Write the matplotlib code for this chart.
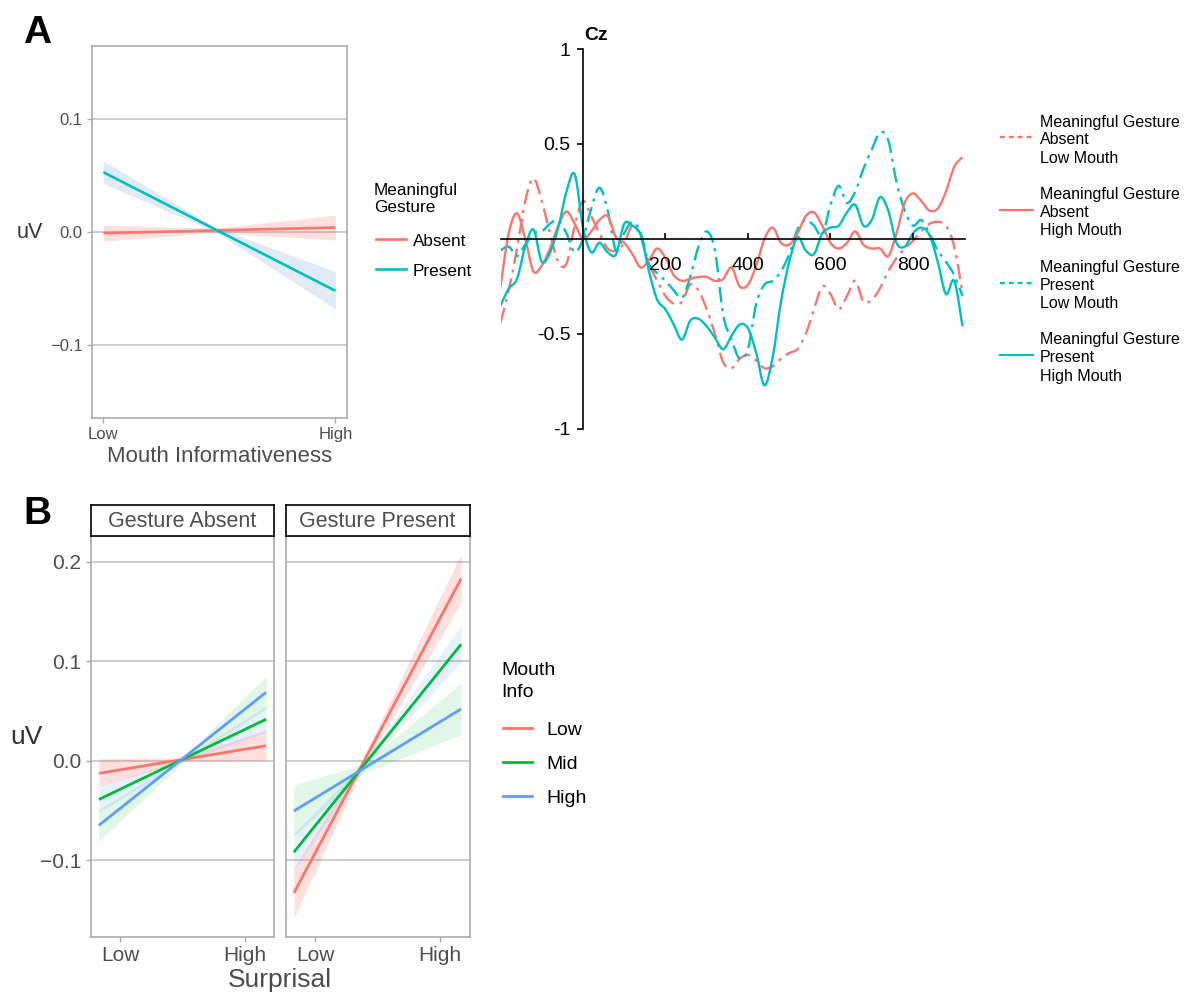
import numpy as np
import matplotlib
matplotlib.use('Agg')
import matplotlib.pyplot as plt
from matplotlib.lines import Line2D
from matplotlib.path import Path
from matplotlib.patches import PathPatch

plt.rcParams['font.family'] = ['Liberation Sans', 'DejaVu Sans']

W, H = 1185, 994

# ---------------- data ----------------
# Panel A (left): model fits over mouth informativeness
mouth_x = [0, 1]
mouth_ticklabels = ['Low', 'High']
absent_fit = [-0.001, 0.004]
present_fit = [0.053, -0.052]
band_x_a = [0, 0.48, 1]
absent_lo = [-0.008, -0.0005, -0.007]
absent_hi = [0.006, 0.0033, 0.015]
present_lo = [0.043, 0.0005, -0.068]
present_hi = [0.063, 0.0045, -0.035]
yticks_a = [-0.1, 0.0, 0.1]

# Panel A (right): ERP at Cz, every 20 ms from -200 to 920 ms
erp_time = list(range(-200, 921, 20))
absent_low_mouth = [-0.44, -0.27, -0.05, 0.2, 0.32, 0.2, 0.03, -0.12, -0.13, 0.07,
                    0.2, 0.12, 0.03, -0.05, -0.06, -0.02, 0.07, 0.01, -0.13, -0.22,
                    -0.3, -0.34, -0.33, -0.24, -0.27, -0.37, -0.5, -0.65, -0.68, -0.63,
                    -0.61, -0.64, -0.68, -0.67, -0.63, -0.6, -0.58, -0.5, -0.37, -0.25,
                    -0.29, -0.37, -0.3, -0.22, -0.33, -0.32, -0.26, -0.17, -0.1, -0.05,
                    -0.01, 0.04, 0.08, 0.09, 0.07, -0.04, -0.28]
absent_high_mouth = [-0.25, 0.03, 0.135, 0.0, -0.17, -0.14, -0.05, 0.07, 0.145, 0.08,
                     0.0, 0.04, 0.1, 0.12, 0.01, -0.02, -0.08, -0.15, -0.11, -0.05,
                     -0.1, -0.19, -0.22, -0.21, -0.2, -0.2, -0.22, -0.21, -0.15, -0.25,
                     -0.24, -0.14, 0.0, 0.06, -0.02, -0.03, 0.03, 0.12, 0.14, 0.07,
                     -0.02, -0.05, -0.02, 0.04, -0.03, -0.05, -0.05, -0.09, 0.03, 0.19,
                     0.24, 0.2, 0.15, 0.16, 0.25, 0.38, 0.43]
present_low_mouth = [-0.06, -0.04, -0.09, -0.03, 0.03, 0.04, 0.08, 0.1, 0.03, -0.07,
                     0.0, 0.16, 0.27, 0.15, -0.06, 0.03, 0.09, 0.03, -0.13, -0.18,
                     -0.22, -0.27, -0.31, -0.2, -0.04, 0.04, -0.06, -0.4, -0.53, -0.63,
                     -0.58, -0.34, -0.24, -0.22, -0.17, -0.08, 0.05, 0.1, 0.07, 0.02,
                     0.18, 0.28, 0.19, 0.25, 0.37, 0.47, 0.56, 0.52, 0.3, 0.15,
                     0.07, 0.1, 0.03, -0.06, -0.12, -0.19, -0.3]
present_high_mouth = [-0.35, -0.26, -0.21, -0.04, 0.05, -0.12, -0.07, 0.06, 0.25, 0.34,
                      0.06, -0.07, -0.02, -0.07, -0.08, 0.08, 0.07, 0.02, -0.17, -0.32,
                      -0.37, -0.45, -0.53, -0.43, -0.42, -0.46, -0.52, -0.58, -0.51, -0.45,
                      -0.47, -0.6, -0.77, -0.62, -0.33, -0.12, 0.01, -0.06, -0.08, 0.03,
                      0.06, 0.07, 0.14, 0.18, 0.07, 0.1, 0.22, 0.15, -0.02, -0.04,
                      0.03, 0.06, 0.02, -0.12, -0.29, -0.22, -0.46]
erp_yticks = [-1, -0.5, 0.5, 1]
erp_yticklabels = ['-1', '-0.5', '0.5', '1']
erp_xticks = [200, 400, 600, 800]

# Panel B: surprisal x mouth info, per gesture facet
surp_x = [-0.17, 1.17]
surp_ticks = [0, 1]
surp_ticklabels = ['Low', 'High']
facets = ['Gesture Absent', 'Gesture Present']
mouth_levels = ['Low', 'Mid', 'High']
fits_b = {
    'Gesture Absent': {'Low': [-0.0127, 0.015], 'Mid': [-0.039, 0.0416], 'High': [-0.065, 0.0687]},
    'Gesture Present': {'Low': [-0.133, 0.183], 'Mid': [-0.092, 0.117], 'High': [-0.0506, 0.052]},
}
band_x_b = {'Gesture Absent': [-0.17, 0.5, 1.17], 'Gesture Present': [-0.17, 0.38, 1.17]}
bands_b = {
    'Gesture Absent': {
        'Low': ([-0.026, -0.0005, 0.0], [0.002, 0.003, 0.031]),
        'Mid': ([-0.052, -0.001, 0.028], [-0.026, 0.002, 0.055]),
        'High': ([-0.081, -0.002, 0.052], [-0.049, 0.002, 0.085]),
    },
    'Gesture Present': {
        'Low': ([-0.158, -0.008, 0.159], [-0.108, 0.002, 0.208]),
        'Mid': ([-0.11, -0.009, 0.0995], [-0.073, -0.003, 0.136]),
        'High': ([-0.076, -0.013, 0.026], [-0.0245, -0.004, 0.078]),
    },
}
yticks_b = [-0.1, 0.0, 0.1, 0.2]

# ---------------- styles ----------------
RED = '#F8766D'
CYAN = '#00BFC4'
GREEN = '#00BA38'
BLUE = '#619CFF'
line_col_b = {'Low': RED, 'Mid': GREEN, 'High': BLUE}
fill_col_b = {'Low': (RED, 0.22), 'Mid': (BLUE, 0.15), 'High': (GREEN, 0.12)}
GRID = '#C4C4C4'
BORDER = '#ABABAB'
TXT = '#4D4D4D'

fig = plt.figure(figsize=(W / 100, H / 100), dpi=100)


def add_ax(l, t, r, b):
    return fig.add_axes([l / W, 1 - b / H, (r - l) / W, (b - t) / H])


def ft(x, y, s, **kw):
    return fig.text(x / W, 1 - y / H, s, **kw)


def fline(x0, x1, y, **kw):
    fig.add_artist(Line2D([x0 / W, x1 / W], [1 - y / H, 1 - y / H], transform=fig.transFigure, **kw))


def gg_axes(ax):
    for s in ax.spines.values():
        s.set_color(BORDER)
        s.set_linewidth(1.2)
    ax.grid(axis='y', color=GRID, linewidth=1.2)
    ax.set_axisbelow(True)
    ax.tick_params(colors=BORDER, labelcolor=TXT, length=3.5, width=1.0)


def smooth_path(x, y):
    """Smooth curve drawn through the given points (Catmull-Rom as cubic Bezier)."""
    pts = np.column_stack([x, y]).astype(float)
    n = len(pts)
    verts = [pts[0]]
    codes = [Path.MOVETO]
    for i in range(n - 1):
        p0 = pts[max(i - 1, 0)]
        p1 = pts[i]
        p2 = pts[i + 1]
        p3 = pts[min(i + 2, n - 1)]
        verts += [p1 + (p2 - p0) / 6.0, p2 - (p3 - p1) / 6.0, p2]
        codes += [Path.CURVE4] * 3
    return Path(verts, codes)


# ---------- Panel A left ----------
axa = add_ax(91.7, 45.7, 347, 417.7)
gg_axes(axa)
axa.fill_between(band_x_a, absent_lo, absent_hi, color=RED, alpha=0.22, linewidth=0)
axa.fill_between(band_x_a, present_lo, present_hi, color='#9DBBD9', alpha=0.3, linewidth=0)
axa.plot(mouth_x, absent_fit, color=RED, lw=1.9, solid_capstyle='butt')
axa.plot(mouth_x, present_fit, color=CYAN, lw=1.9, solid_capstyle='butt')
axa.set_xlim(-0.05, 1.05)
axa.set_ylim(-0.1643, 0.1649)
axa.set_yticks(yticks_a)
axa.set_yticklabels(['\u22120.1', '0.0', '0.1'])
axa.set_xticks(mouth_x)
axa.set_xticklabels(mouth_ticklabels)
axa.tick_params(axis='both', labelsize=12, pad=3)

ft(30, 232, 'uV', fontsize=15.5, color='#333333', ha='center', va='center')
ft(219.5, 456, 'Mouth Informativeness', fontsize=16, color=TXT, ha='center', va='center')

# legend A
ft(374, 195, 'Meaningful', fontsize=12.3, ha='left', va='baseline')
ft(374, 212.3, 'Gesture', fontsize=12.3, ha='left', va='baseline')
fline(376, 406, 239.3, color=RED, lw=1.9)
fline(376, 406, 269.3, color=CYAN, lw=1.9)
ft(413, 246, 'Absent', fontsize=12.3, ha='left', va='baseline')
ft(413, 276, 'Present', fontsize=12.3, ha='left', va='baseline')

ft(23, 43, 'A', fontsize=28, fontweight='bold', ha='left', va='baseline')

# ---------- Panel A right: ERP ----------
axe = add_ax(500.5, 30, 966.6, 438.5)
axe.set_xlim(-200, 930)
axe.set_ylim(-1.05, 1.1)
axe.patch.set_alpha(0)
DASHDOT = (0, (6.5, 2.5, 1.3, 2.5))
erp_series = [
    (absent_low_mouth, RED, DASHDOT),
    (present_low_mouth, CYAN, DASHDOT),
    (absent_high_mouth, RED, '-'),
    (present_high_mouth, CYAN, '-'),
]
for vals, col, ls in erp_series:
    axe.add_patch(PathPatch(smooth_path(erp_time, vals), fill=False, edgecolor=col,
                            lw=1.7, linestyle=ls, capstyle='butt', joinstyle='round'))
for s in ['top', 'right']:
    axe.spines[s].set_visible(False)
axe.spines['left'].set_position(('data', 0))
axe.spines['bottom'].set_position(('data', 0))
axe.spines['left'].set_bounds(-1, 1)
axe.spines['bottom'].set_bounds(-200, 925)
for s in ['left', 'bottom']:
    axe.spines[s].set_linewidth(1.2)
axe.set_yticks(erp_yticks)
axe.set_yticklabels(erp_yticklabels)
axe.set_xticks(erp_xticks)
axe.set_xticklabels([str(v) for v in erp_xticks])
axe.tick_params(axis='y', direction='out', length=4, width=1.2, labelsize=14, pad=5)
axe.tick_params(axis='x', direction='in', length=4, width=1.2, labelsize=14, pad=13)
ft(584, 40, 'Cz', fontsize=14, fontweight='bold', ha='left', va='baseline')

# ERP legend
erp_leg = [
    ('Absent', 'Low Mouth', RED, (0, (2.2, 1.8)), [126.7, 144.3, 163.3], 137.3),
    ('Absent', 'High Mouth', RED, '-', [199, 217.3, 235], 210),
    ('Present', 'Low Mouth', CYAN, (0, (2.2, 1.8)), [272.3, 290, 308.3], 282.7),
    ('Present', 'High Mouth', CYAN, '-', [344.3, 362.3, 381], 355),
]
for cond, mouth, col, ls, ys, hy in erp_leg:
    fline(1000, 1033, hy, color=col, lw=1.6, ls=ls)
    for txt, yy in zip(['Meaningful Gesture', cond, mouth], ys):
        ft(1040, yy, txt, fontsize=11.5, ha='left', va='baseline')

# ---------- Panel B ----------
facet_boxes = {'Gesture Absent': (90.5, 274.4), 'Gesture Present': (285.5, 469.5)}
for i, fac in enumerate(facets):
    l, r = facet_boxes[fac]
    ax = add_ax(l, 536, r, 936.7)
    gg_axes(ax)
    for lev in mouth_levels:
        lo, hi = bands_b[fac][lev]
        col, al = fill_col_b[lev]
        ax.fill_between(band_x_b[fac], lo, hi, color=col, alpha=al, linewidth=0)
    for lev in mouth_levels:
        ax.plot(surp_x, fits_b[fac][lev], color=line_col_b[lev], lw=2.0, solid_capstyle='butt')
    ax.set_xlim(-0.237, 1.237)
    ax.set_ylim(-0.1769, 0.2258)
    ax.set_yticks(yticks_b)
    ax.set_xticks(surp_ticks)
    ax.set_xticklabels(surp_ticklabels)
    ax.tick_params(axis='both', labelsize=15, pad=3)
    if i == 0:
        ax.set_yticklabels(['\u22120.1', '0.0', '0.1', '0.2'])
    else:
        ax.tick_params(axis='y', left=False, labelleft=False)
    # strip
    sax = add_ax(l, 505, r, 536)
    sax.set_xticks([])
    sax.set_yticks([])
    for s in sax.spines.values():
        s.set_color('black')
        s.set_linewidth(1.2)
    sax.text(0.5, 0.47, fac, transform=sax.transAxes, ha='center', va='center',
             fontsize=15.5, color=TXT)

ft(26, 737, 'uV', fontsize=19, color='#333333', ha='center', va='center')
ft(280, 980, 'Surprisal', fontsize=19, color=TXT, ha='center', va='center')

# legend B
ft(501, 675, 'Mouth', fontsize=14, ha='left', va='baseline')
ft(501, 697, 'Info', fontsize=14, ha='left', va='baseline')
for lev, hy, by in zip(mouth_levels, [728, 762, 796], [735, 769, 803]):
    fline(503, 532, hy, color=line_col_b[lev], lw=2.0)
    ft(546, by, lev, fontsize=14, ha='left', va='baseline')

ft(23, 524, 'B', fontsize=28, fontweight='bold', ha='left', va='baseline')

fig.savefig('out.png', dpi=100)
